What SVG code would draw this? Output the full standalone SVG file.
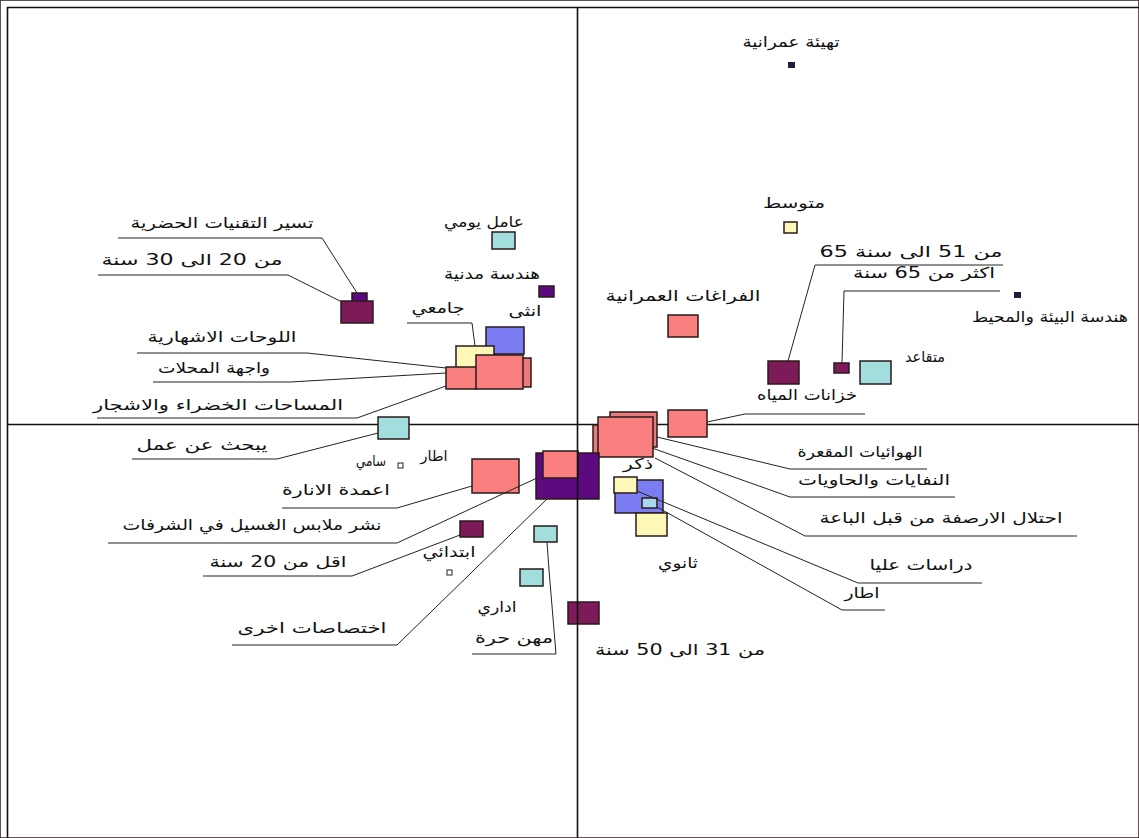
<svg xmlns="http://www.w3.org/2000/svg" width="1139" height="838" viewBox="0 0 1139 838">
<style>
text{font-family:"DejaVu Sans","Noto Sans",sans-serif;font-size:15px;fill:#111;text-anchor:middle;direction:rtl}
.axis{stroke:#111;stroke-width:1.6;fill:none}
.con{stroke:#222;stroke-width:1;fill:none}
rect{stroke:#2a1a1a;stroke-width:1.5}
.sal{fill:#fa8080}
.sal2{fill:#ec7a7a}
.mar{fill:#7d1b58}
.pur{fill:#5c0a80}
.blu{fill:#7c7cf2}
.yel{fill:#fdf8b8}
.tea{fill:#a3dede}
.lbl{fill:#a8d8ee}
.dot{fill:#1e1e3a;stroke:none}
.hol{fill:#fff;stroke:#222;stroke-width:1}
</style>
<rect x="0" y="0" width="1139" height="838" fill="#fff" stroke="none"/>
<g id="frame">
<polyline class="axis" points="7.5,838 7.5,7.5 1139,7.5"/>
<line class="axis" x1="7" y1="424.5" x2="1139" y2="424.5"/>
</g>
<g id="label-dhakar"><text x="638" y="469" textLength="30" lengthAdjust="spacingAndGlyphs">ذكر</text></g>
<g id="nodes">
<g id="n-tasyir"><rect class="pur" x="352" y="293" width="15" height="10"/><text x="222" y="228" textLength="183" lengthAdjust="spacingAndGlyphs">تسير التقنيات الحضرية</text></g>
<g id="n-20-30"><rect class="mar" x="341" y="301" width="32" height="22"/><text x="192" y="265" textLength="181" lengthAdjust="spacingAndGlyphs">من 20 الى 30 سنة</text></g>
<g id="n-amel"><rect class="tea" x="492" y="232" width="23" height="17"/><text x="484" y="227" textLength="80" lengthAdjust="spacingAndGlyphs">عامل يومي</text></g>
<g id="n-madania"><rect class="pur" x="539" y="286" width="15" height="11"/><text x="492" y="279" textLength="96" lengthAdjust="spacingAndGlyphs">هندسة مدنية</text></g>
<g id="n-untha"><rect class="blu" x="486" y="327" width="38" height="27"/><text x="525" y="316" textLength="33" lengthAdjust="spacingAndGlyphs">انثى</text></g>
<g id="n-jamei"><rect class="yel" x="456" y="346" width="38" height="22"/><text x="438" y="313" textLength="53" lengthAdjust="spacingAndGlyphs">جامعي</text></g>
<g id="n-wajiha"><rect class="sal2" x="500" y="358" width="31" height="29"/><text x="214" y="373" textLength="112" lengthAdjust="spacingAndGlyphs">واجهة المحلات</text></g>
<g id="n-masahat"><rect class="sal" x="446" y="367" width="31" height="22"/><text x="218" y="410" textLength="250" lengthAdjust="spacingAndGlyphs">المساحات الخضراء والاشجار</text></g>
<g id="n-lawhat"><rect class="sal" x="476" y="355" width="47" height="34"/><text x="222" y="342" textLength="149" lengthAdjust="spacingAndGlyphs">اللوحات الاشهارية</text></g>
<g id="n-faraghat"><rect class="sal" x="668" y="315" width="30" height="22"/><text x="683" y="301" textLength="155" lengthAdjust="spacingAndGlyphs">الفراغات العمرانية</text></g>
<g id="n-tahyia"><rect class="dot" x="788" y="62" width="7" height="6"/><text x="791" y="47" textLength="97" lengthAdjust="spacingAndGlyphs">تهيئة عمرانية</text></g>
<g id="n-mutawasit"><rect class="yel" x="784" y="222" width="13" height="11"/><text x="794" y="208" textLength="62" lengthAdjust="spacingAndGlyphs">متوسط</text></g>
<g id="n-51-65"><rect class="mar" x="768" y="361" width="31" height="23"/><text x="911" y="257" textLength="183" lengthAdjust="spacingAndGlyphs">من 51 الى  سنة 65</text></g>
<g id="n-akthar"><rect class="mar" x="834" y="363" width="15" height="10"/><text x="924" y="278" textLength="142" lengthAdjust="spacingAndGlyphs">اكثر من 65 سنة</text></g>
<g id="n-biaa"><rect class="dot" x="1014" y="292" width="7" height="6"/><text x="1050" y="322" textLength="156" lengthAdjust="spacingAndGlyphs">هندسة البيئة والمحيط</text></g>
<g id="n-mutaqaid"><rect class="tea" x="860" y="361" width="31" height="23"/><text x="925" y="362" textLength="40" lengthAdjust="spacingAndGlyphs">متقاعد</text></g>
<g id="n-khazanat"><rect class="sal" x="668" y="410" width="39" height="27"/><text x="807" y="400" textLength="100" lengthAdjust="spacingAndGlyphs">خزانات المياه</text></g>
<g id="n-hawaiyat"><rect class="sal2" x="610" y="412" width="47" height="35"/></g>
<g id="n-nifayat"><rect class="sal2" x="593" y="425" width="40" height="30"/></g>
<g id="n-ihtilal"><rect class="sal" x="598" y="417" width="55" height="40"/></g>
<g id="t-right">
<text x="860" y="457" textLength="125" lengthAdjust="spacingAndGlyphs">الهوائيات المقعرة</text>
<text x="874" y="485" textLength="152" lengthAdjust="spacingAndGlyphs">النفايات والحاويات</text>
<text x="941" y="523" textLength="243" lengthAdjust="spacingAndGlyphs">احتلال الارصفة من قبل الباعة</text>
<text x="921" y="570" textLength="103" lengthAdjust="spacingAndGlyphs">دراسات عليا</text>
<text x="862" y="598" textLength="35" lengthAdjust="spacingAndGlyphs">اطار</text>
</g>
<g id="n-itar"><rect class="blu" x="615" y="480" width="48" height="33"/></g>
<g id="n-dirasat"><rect class="yel" x="614" y="477" width="23" height="16"/></g>
<g id="n-itar2"><rect class="lbl" x="642" y="498" width="15" height="10"/></g>
<g id="n-thanawi"><rect class="yel" x="636" y="513" width="31" height="23"/><text x="678" y="568" textLength="40" lengthAdjust="spacingAndGlyphs">ثانوي</text></g>
<g id="n-nashr"><rect class="pur" x="536" y="453" width="63" height="46"/><text x="252" y="530" textLength="259" lengthAdjust="spacingAndGlyphs">نشر ملابس الغسيل في الشرفات</text></g>
<g id="n-ukhra"><rect class="sal" x="543" y="451" width="35" height="27"/><text x="312" y="633" textLength="149" lengthAdjust="spacingAndGlyphs">اختصاصات اخرى</text></g>
<g id="n-aamida"><rect class="sal" x="472" y="459" width="47" height="34"/><text x="336" y="495" textLength="108" lengthAdjust="spacingAndGlyphs">اعمدة الانارة</text></g>
<g id="n-yabhath"><rect class="tea" x="378" y="417" width="31" height="22"/><text x="202" y="450" textLength="131" lengthAdjust="spacingAndGlyphs">يبحث عن عمل</text></g>
<g id="n-itar-sami"><rect class="hol" x="398" y="463" width="5" height="5"/><text x="371" y="466" textLength="30" lengthAdjust="spacingAndGlyphs">سامي</text><text x="434" y="461" textLength="27" lengthAdjust="spacingAndGlyphs">اطار</text></g>
<g id="n-aqal"><rect class="mar" x="460" y="521" width="23" height="16"/><text x="278" y="567" textLength="137" lengthAdjust="spacingAndGlyphs">اقل من 20 سنة</text></g>
<g id="n-ibtidai"><rect class="hol" x="447" y="570" width="5" height="5"/><text x="449" y="557" textLength="53" lengthAdjust="spacingAndGlyphs">ابتدائي</text></g>
<g id="n-mihan"><rect class="tea" x="534" y="526" width="23" height="16"/><text x="514" y="643" textLength="78" lengthAdjust="spacingAndGlyphs">مهن حرة</text></g>
<g id="n-idari"><rect class="tea" x="520" y="569" width="23" height="17"/><text x="497" y="612" textLength="39" lengthAdjust="spacingAndGlyphs">اداري</text></g>
<g id="n-31-50"><rect class="mar" x="568" y="602" width="31" height="22"/><text x="680" y="655" textLength="170" lengthAdjust="spacingAndGlyphs">من 31 الى 50 سنة</text></g>
</g>
<line class="axis" x1="577.5" y1="7" x2="577.5" y2="838"/>
<g id="connectors">
<polyline class="con" points="118,238 322,238 357,293"/>
<polyline class="con" points="98,275 288,275 342,302"/>
<polyline class="con" points="137,353 307,353 446,368"/>
<polyline class="con" points="153,382 290,382 446,373"/>
<polyline class="con" points="97,418 357,418 446,386"/>
<polyline class="con" points="407,323 472,323 475,346"/>
<polyline class="con" points="132,459 277,459 378,433"/>
<polyline class="con" points="282,508 397,508 472,486"/>
<polyline class="con" points="108,543 397,543 537,478"/>
<polyline class="con" points="203,576 352,576 460,535"/>
<polyline class="con" points="232,645 397,645 547,499"/>
<polyline class="con" points="472,654 556,654 549,570 547,542"/>
<polyline class="con" points="1003,265 815,265 788,361"/>
<polyline class="con" points="1000,291 844,291 842,363"/>
<polyline class="con" points="865,414 745,414 707,422"/>
<polyline class="con" points="927,469 790,469 657,437"/>
<polyline class="con" points="955,497 790,497 652,448"/>
<polyline class="con" points="1077,536 805,536 655,458"/>
<polyline class="con" points="982,583 858,583 637,491"/>
<polyline class="con" points="885,610 842,610 657,507"/>
</g>
</svg>
